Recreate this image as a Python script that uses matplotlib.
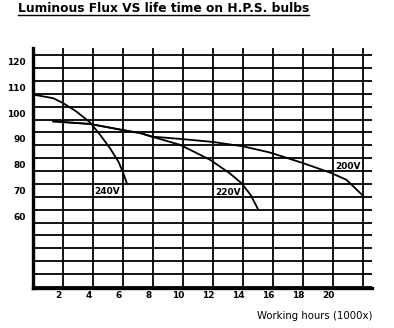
import matplotlib
matplotlib.use("Agg")
import matplotlib.pyplot as plt
from matplotlib.lines import Line2D

title = "Luminous Flux VS life time on H.P.S. bulbs"
xlabel = "Working hours (1000x)"

# curves (x in 1000 h, y in flux)
x_240 = [0.0, 1.35, 2.0, 2.9, 3.8, 4.47, 5.13, 5.69, 6.02, 6.25]
y_240 = [109.7, 108.3, 106.4, 103.1, 98.9, 94.1, 88.9, 83.7, 79.2, 75.3]

x_220 = [1.35, 3.8, 6.47, 7.13, 7.91, 9.8, 11.8, 13.1, 13.9, 14.5, 15.0]
y_220 = [99.3, 98.3, 95.4, 94.8, 93.4, 90.2, 84.4, 79.2, 75.3, 70.8, 65.2]

x_200 = [1.35, 3.8, 6.47, 7.13, 7.91, 10.0, 12.0, 14.0, 15.8, 18.0, 19.9, 20.9, 22.0]
y_200 = [99.3, 98.3, 95.4, 94.8, 93.4, 92.4, 91.3, 89.6, 87.2, 83.1, 79.2, 76.6, 70.4]

curve_labels = ["240V", "220V", "200V"]
label_x = [4.93, 13.0, 21.0]
label_y = [72.1, 71.6, 81.8]

xticks = [2, 4, 6, 8, 10, 12, 14, 16, 18, 20]
yticks = [60, 70, 80, 90, 100, 110, 120]
vlines = list(range(2, 24, 2))
hlines = list(range(35, 130, 5))

fig = plt.figure(figsize=(3.94, 3.28), dpi=100)
ax = fig.add_axes([0.0838, 0.122, 0.8604, 0.7317])
ax.set_xlim(0, 22.6)
ax.set_ylim(34.6, 127.8)

for h in hlines:
    ax.plot([0, 22.6], [h, h], color="black", lw=1.3, solid_capstyle="butt")
for v in vlines:
    ax.plot([v, v], [34.6, 127.8], color="black", lw=1.3, solid_capstyle="butt")

ax.plot(x_240, y_240, color="black", lw=1.3)
ax.plot(x_220, y_220, color="black", lw=1.3)
ax.plot(x_200, y_200, color="black", lw=1.3)

for lab, lx, ly in zip(curve_labels, label_x, label_y):
    ax.text(lx, ly, lab, ha="center", va="center", fontsize=6.5, fontweight="bold")

for t in xticks:
    ax.text(t - 0.3, 33.5, str(t), ha="center", va="top", fontsize=6.5, fontweight="bold")
for t in yticks:
    ax.text(-0.5, t + 2.1, str(t), ha="right", va="center", fontsize=6.5, fontweight="bold")

ax.set_xticks([])
ax.set_yticks([])
ax.spines["top"].set_visible(False)
ax.spines["right"].set_visible(False)
ax.spines["left"].set_linewidth(2.4)
ax.spines["bottom"].set_linewidth(2.4)

ax.text(22.6, 23.8, xlabel, ha="right", va="center", fontsize=7.3)

tt = fig.text(18 / 394, 1 - 8 / 328, title, ha="left", va="center", fontsize=8.8, fontweight="bold")
fig.canvas.draw()
bb = tt.get_window_extent().transformed(fig.transFigure.inverted())
uy = 1 - 14.5 / 328
fig.add_artist(Line2D([bb.x0, bb.x1], [uy, uy], transform=fig.transFigure, color="black", lw=1.0))

fig.savefig("out.png", dpi=100)
